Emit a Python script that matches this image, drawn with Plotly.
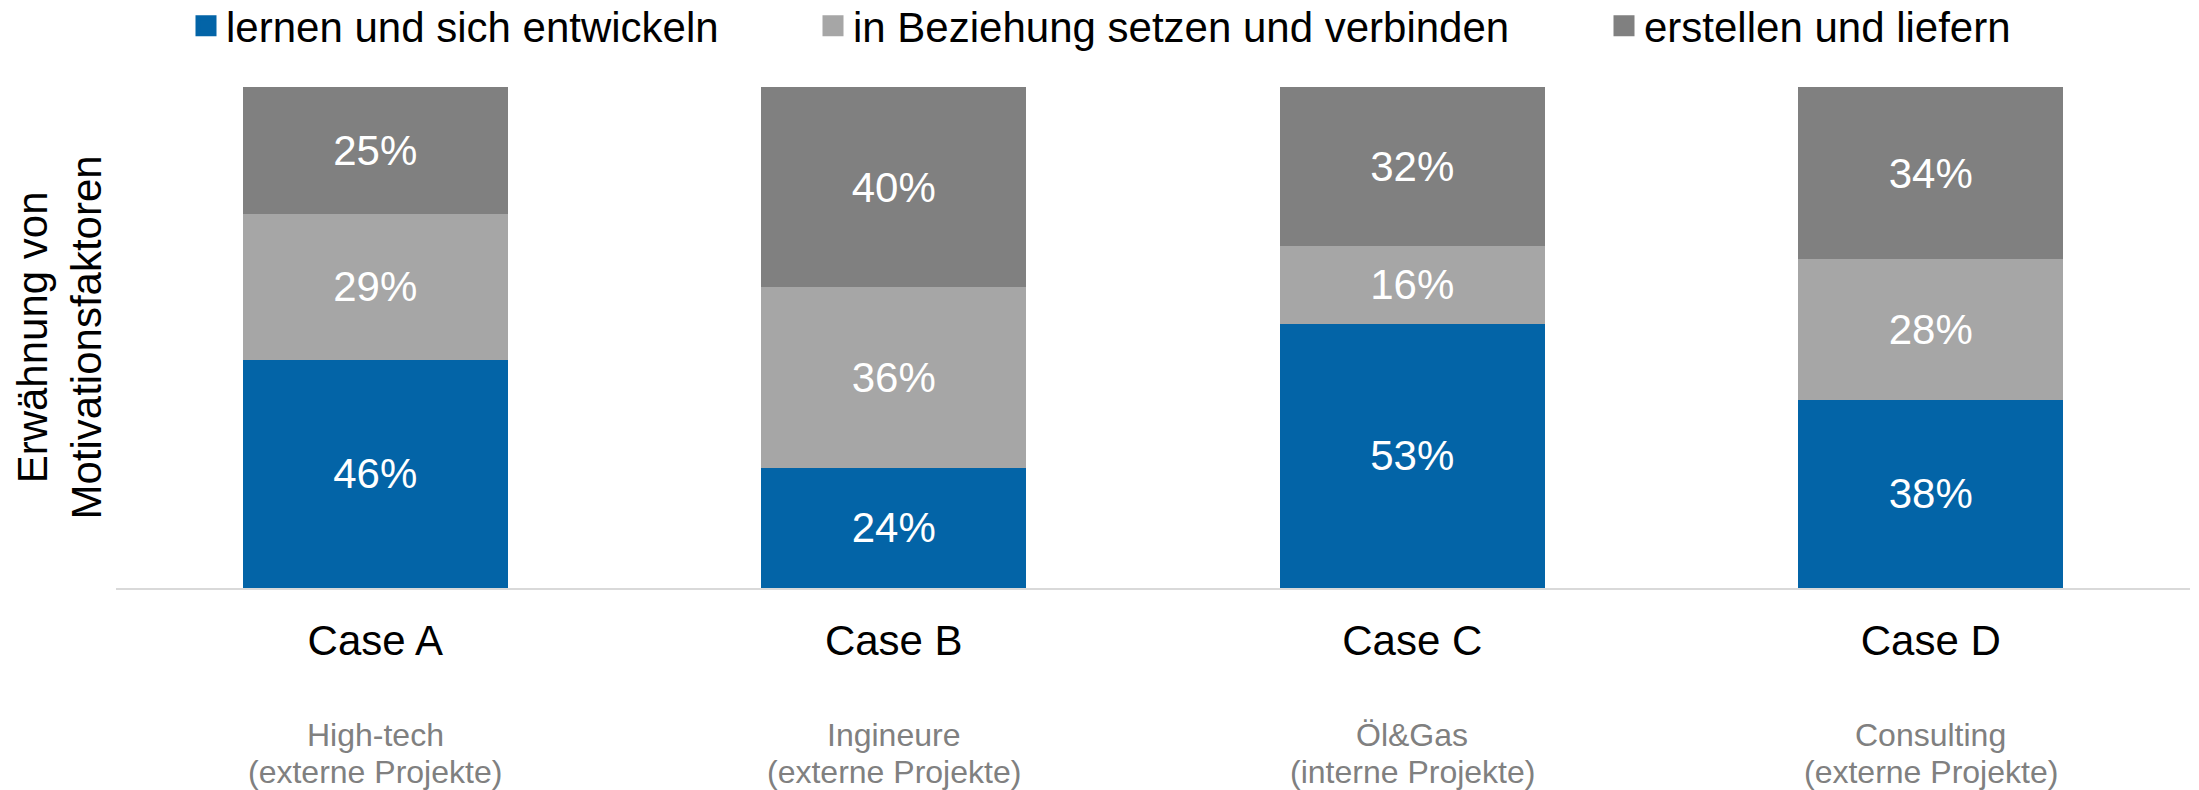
import plotly.graph_objects as go

# ---- data ----
categories = ["Case A", "Case B", "Case C", "Case D"]
sector_labels = ["High-tech", "Ingineure", "Öl&Gas", "Consulting"]
project_labels = ["(externe Projekte)", "(externe Projekte)", "(interne Projekte)", "(externe Projekte)"]
series_names = ["lernen und sich entwickeln", "in Beziehung setzen und verbinden", "erstellen und liefern"]
lernen = [45.6, 24.0, 52.7, 37.6]
beziehung = [29.0, 36.0, 15.6, 28.0]
erstellen = [25.4, 40.0, 31.7, 34.4]
colors = ["#0364A7", "#A6A6A6", "#808080"]
y_title = "Erwähnung von<br>Motivationsfaktoren"

W, H = 2199, 790
ML, MR, MT, MB = 116, 9, 87, 202
FONT = "Liberation Sans, Arial, sans-serif"
PLOT_H = H - MT - MB

fig = go.Figure()
series_values = [lernen, beziehung, erstellen]
legend_ids = ["legend", "legend2", "legend3"]
for name, vals, col, lg in zip(series_names, series_values, colors, legend_ids):
    fig.add_trace(go.Bar(
        x=categories, y=vals, name=name, marker=dict(color=col, line=dict(width=0)),
        texttemplate="%{y:.0f}%", textposition="inside", insidetextanchor="middle",
        textfont=dict(size=42, color="white", family=FONT),
        showlegend=False, hoverinfo="skip"))
    # legend entry (square symbol)
    fig.add_trace(go.Scatter(
        x=[None], y=[None], mode="markers", name=name, legend=lg,
        marker=dict(symbol="square", size=16, color=col, line=dict(width=5, color=col)),
        showlegend=True))

legend_px = [186, 813, 1604]
for lg, px in zip(legend_ids, legend_px):
    fig.update_layout(**{lg: dict(
        orientation="h", xref="container", yref="container",
        x=px / W, xanchor="left", y=1 - 26 / H, yanchor="middle",
        font=dict(size=42, color="black", family=FONT),
        bgcolor="rgba(0,0,0,0)", borderwidth=0)})

for cat, l1, l2 in zip(categories, sector_labels, project_labels):
    for txt, ypx in ((l1, 735), (l2, 772)):
        fig.add_annotation(x=cat, xref="x", yref="paper",
                           y=-(ypx - (H - MB)) / PLOT_H, yanchor="middle",
                           text=txt, showarrow=False, xanchor="center",
                           font=dict(size=32, color="#808080", family=FONT))

fig.add_annotation(xref="paper", yref="paper", x=(59 - ML) / (W - ML - MR), y=0.5,
                   xanchor="center", yanchor="middle", textangle=-90,
                   text=y_title, showarrow=False,
                   font=dict(size=42, color="black", family=FONT))

fig.update_layout(
    width=W, height=H, barmode="stack", bargap=0.489,
    margin=dict(l=ML, r=MR, t=MT, b=MB, autoexpand=False),
    plot_bgcolor="white", paper_bgcolor="white",
    font=dict(family=FONT, color="black"),
    xaxis=dict(showline=True, linecolor="#D9D9D9", linewidth=2, ticks="",
               tickfont=dict(size=42, color="black", family=FONT),
               ticklabelstandoff=15, showgrid=False, zeroline=False),
    yaxis=dict(range=[0, 100], showticklabels=False, showgrid=False,
               zeroline=False, showline=False, ticks=""),
)

fig.write_html("out.html", config={"displayModeBar": False},
               post_script="document.body.style.margin='0';document.body.style.overflow='hidden';")
